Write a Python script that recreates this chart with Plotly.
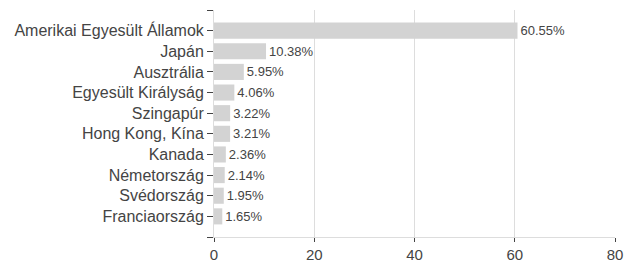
import plotly.graph_objects as go

countries = ["Amerikai Egyesült Államok", "Japán", "Ausztrália", "Egyesült Királyság",
             "Szingapúr", "Hong Kong, Kína", "Kanada", "Németország", "Svédország", "Franciaország"]
shares = [60.55, 10.38, 5.95, 4.06, 3.22, 3.21, 2.36, 2.14, 1.95, 1.65]
x_ticks = [0, 20, 40, 60, 80]

idx = list(range(len(countries)))
fig = go.Figure(go.Bar(
    x=shares, y=idx, orientation="h",
    marker=dict(color="#d3d3d3", line=dict(width=0)),
    text=[f"{v:.2f}%" for v in shares], textposition="outside",
    textfont=dict(size=13, color="#444", family="Liberation Sans, Arial"),
    cliponaxis=False, width=0.78,
))
fig.update_layout(
    width=638, height=267, margin=dict(l=214, r=23, t=10, b=30),
    plot_bgcolor="white", paper_bgcolor="white", showlegend=False,
    font=dict(family="Liberation Sans, Arial", color="#444", size=14),
    xaxis=dict(range=[0, 80], tickvals=x_ticks, showgrid=True, gridcolor="#ddd", gridwidth=1,
               zeroline=False, showline=True, linecolor="#ddd", linewidth=1, automargin=False,
               ticks="outside", ticklen=4, tickcolor="#444", tickfont=dict(size=15)),
    yaxis=dict(range=[len(countries), -1], tickvals=[-1] + idx + [len(countries)],
               ticktext=[""] + countries + [""], showgrid=False, zeroline=False,
               showline=True, linecolor="#ddd", linewidth=1, automargin=False,
               ticks="outside", ticklen=6, tickcolor="#444", tickfont=dict(size=16)),
)
fig.write_html("out.html", config={"displayModeBar": False},
               post_script="document.body.style.margin='0';document.body.style.overflow='hidden';")
